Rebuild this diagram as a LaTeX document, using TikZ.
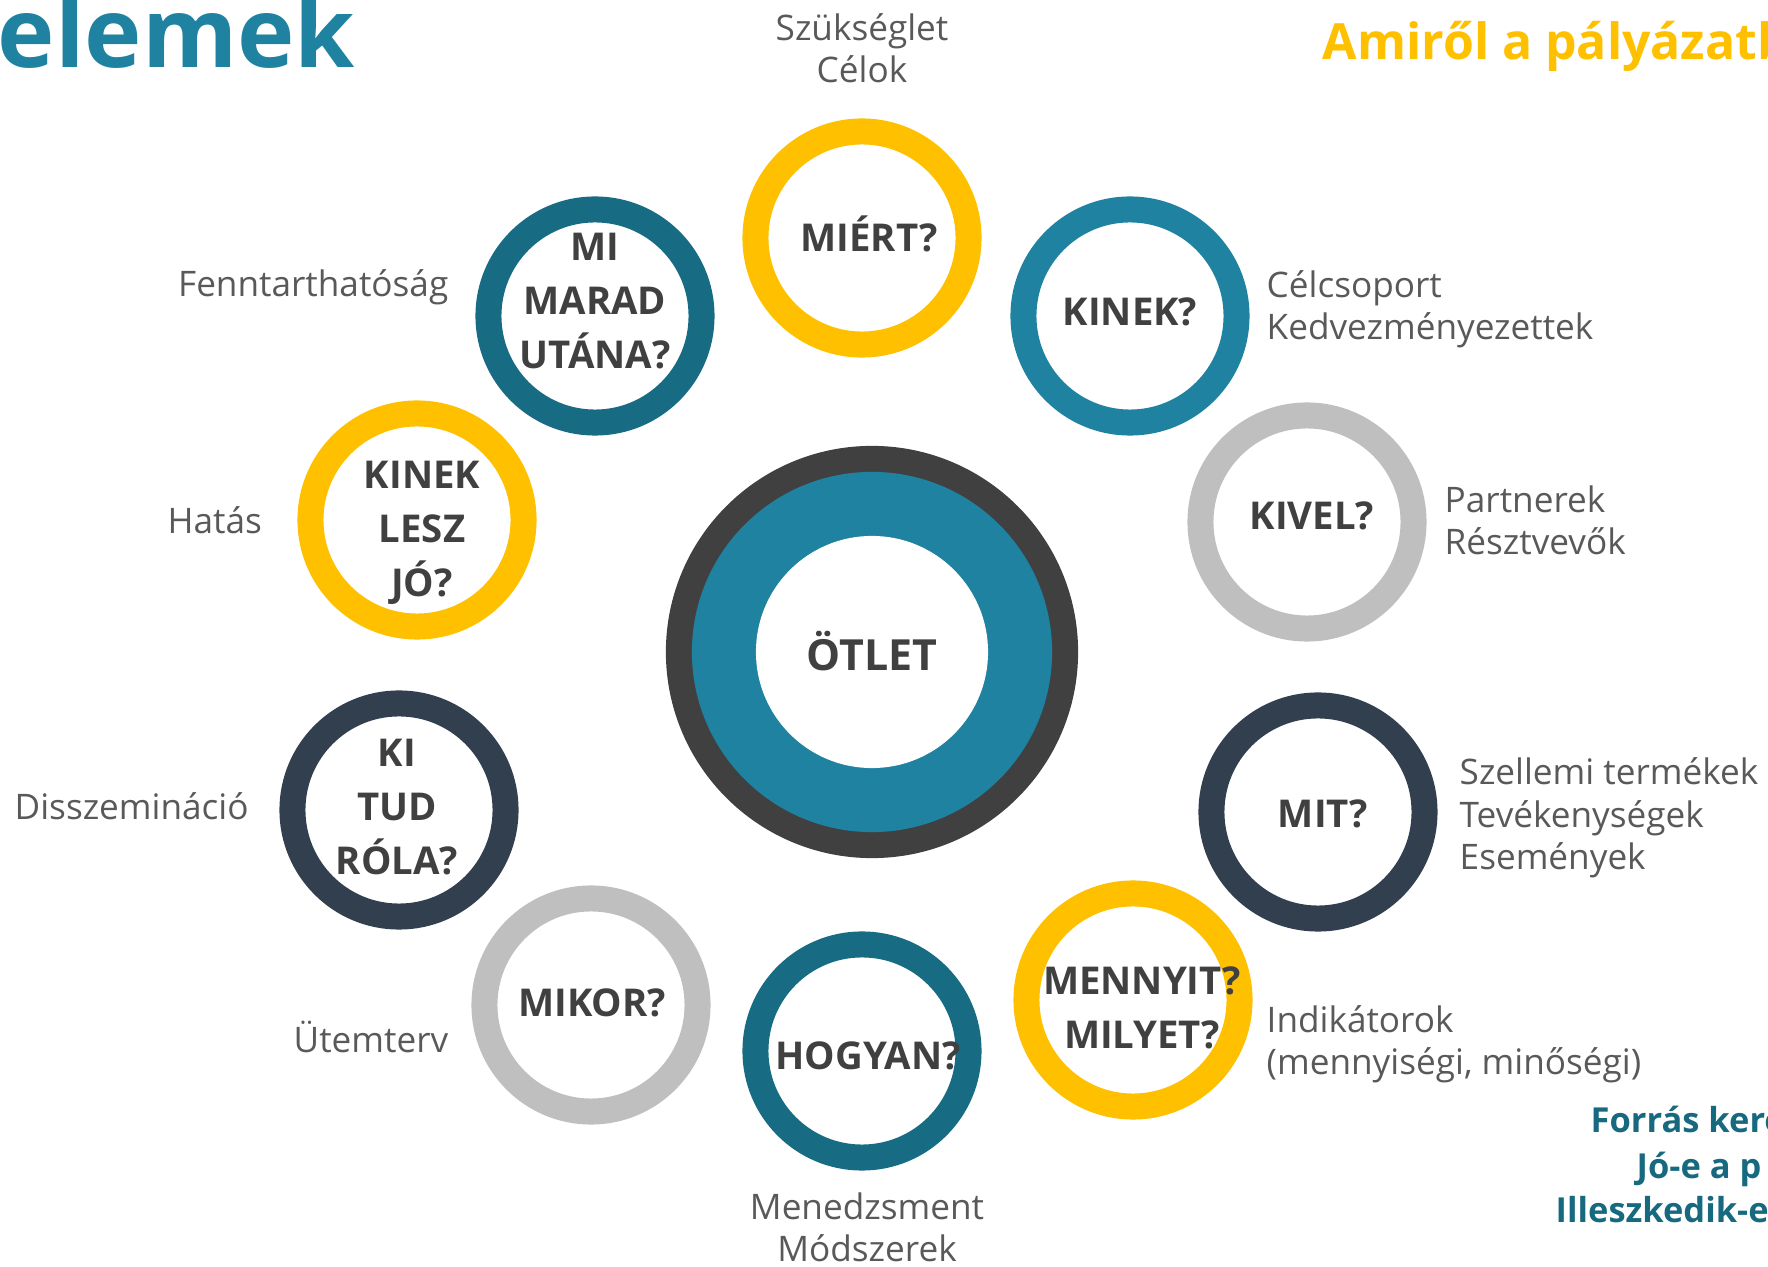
\documentclass[tikz,border=0pt]{standalone}
\usepackage{fontspec}
\setmainfont{Open Sans}
\usepackage{tikz}
\definecolor{cyellow}{HTML}{FFC000}
\definecolor{cteal}{HTML}{1F82A0}
\definecolor{cteald}{HTML}{176B82}
\definecolor{cgray}{HTML}{BFBFBF}
\definecolor{cnavy}{HTML}{323F4F}
\definecolor{cdark}{HTML}{404040}
\definecolor{clabel}{HTML}{595959}
\definecolor{cforras}{HTML}{17697F}
\tikzset{
  ring/.style={circle, line width=7.4pt, minimum size=2.13cm, inner sep=0pt},
  qtext/.style={text=cdark, font=\bfseries\fontsize{10.9}{15.4}\selectfont, align=center, inner sep=0pt, anchor=base},
  lbl/.style={text=clabel, font=\fontsize{10}{12.2}\selectfont, inner sep=0pt},
  forras/.style={text=cforras, font=\bfseries\fontsize{9.8}{12}\selectfont, inner sep=0pt, anchor=base west},
}
\newcommand{\question}[4]{\node[ring, draw=#4] (#1) at (#2,#3) {};}

\begin{document}
\begin{tikzpicture}[x=0.01cm, y=-0.01cm]
        \useasboundingbox (0,0) rectangle (1768,1267);
        \clip (0,0) rectangle (1768,1267);
        % headings
        \node[text=cteal, font=\bfseries\fontsize{27.6}{30}\selectfont, inner sep=0pt, anchor=base west] (title) at (-3,68) {elemek};
        \node[text=cyellow, font=\bfseries\fontsize{14.2}{17}\selectfont, inner sep=0pt, anchor=base west] (amirol) at (1322,60) {Amiről a pályázatb};
        % centre
        \node[circle, fill=cdark, minimum size=4.12cm, inner sep=0pt] (otlet) at (872,652) {};
        \node[circle, fill=cteal, minimum size=3.6cm, inner sep=0pt] at (otlet) {};
        \node[circle, fill=white, minimum size=2.32cm, inner sep=0pt] at (otlet) {};
        \node[qtext, font=\bfseries\fontsize{12.2}{14}\selectfont] (otlet-t) at (872,671) {ÖTLET};
        % rings
        \question{miert}{862}{238}{cyellow}
        \question{kinek}{1130}{316}{cteal}
        \question{kivel}{1307}{522}{cgray}
        \question{mit}{1318}{812}{cnavy}
        \question{mennyit}{1133}{1000}{cyellow}
        \question{hogyan}{862}{1051}{cteald}
        \question{mikor}{591}{1005}{cgray}
        \question{kitud}{399}{810}{cnavy}
        \question{kineklesz}{417}{520}{cyellow}
        \question{mimarad}{595}{316}{cteald}
        % ring texts
        \node[qtext] (miert-t) at (869,252) {MIÉRT?};
        \node[qtext] (kinek-t) at (1130,326) {KINEK?};
        \node[qtext] (kivel-t) at (1312,530) {KIVEL?};
        \node[qtext] (mit-t) at (1323,828) {MIT?};
        \node[qtext] (mennyit-t) at (1142,1049) {MENNYIT?\\MILYET?};
        \node[qtext] (hogyan-t) at (868,1070) {HOGYAN?};
        \node[qtext] (mikor-t) at (592,1017) {MIKOR?};
        \node[qtext] (kitud-t) at (397,875) {KI\\TUD\\RÓLA?};
        \node[qtext] (kineklesz-t) at (422,597) {KINEK\\LESZ\\JÓ?};
        \node[qtext] (mimarad-t) at (595,369) {MI\\MARAD\\UTÁNA?};
        % side labels
        \node[lbl, align=center, anchor=base] (szukseglet) at (862,83) {Szükséglet\\Célok};
        \node[lbl, anchor=base east] (fenntart) at (449,297) {Fenntarthatóság};
        \node[lbl, align=left, anchor=base west] (celcsoport) at (1266,340) {Célcsoport\\Kedvezményezettek};
        \node[lbl, align=left, anchor=base west] (partnerek) at (1444,555) {Partnerek\\Résztvevők};
        \node[lbl, anchor=base west] (hatas) at (167,534) {Hatás};
        \node[lbl, align=left, anchor=base west] (szellemi) at (1459,870) {Szellemi termékek\\Tevékenységek\\Események};
        \node[lbl, anchor=base west] (dissz) at (14,820) {Disszemináció};
        \node[lbl, anchor=base west] (utemterv) at (293,1053) {Ütemterv};
        \node[lbl, align=left, anchor=base west] (indikator) at (1266,1075) {Indikátorok\\(mennyiségi, minőségi)};
        \node[lbl, align=center, anchor=base] (menedzs) at (867,1262) {Menedzsment\\Módszerek};
        % bottom right
        \node[forras] (forras1) at (1590,1133) {Forrás kere};
        \node[forras] (forras2) at (1636,1179) {Jó-e a p};
        \node[forras] (forras3) at (1555,1223) {Illeszkedik-e};
    \end{tikzpicture}
\end{document}
